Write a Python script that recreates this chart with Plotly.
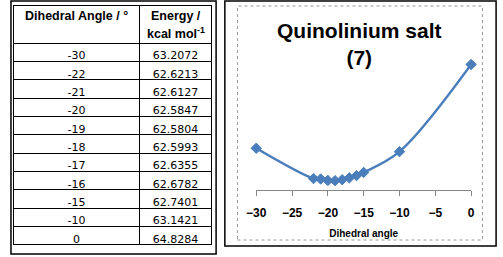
import plotly.graph_objects as go

angles = [-30, -22, -21, -20, -19, -18, -17, -16, -15, -10, 0]
energies = [63.2072, 62.6213, 62.6127, 62.5847, 62.5804, 62.5993, 62.6355, 62.6782, 62.7401, 63.1421, 64.8284]
header_col1 = "<b>Dihedral Angle / °</b>"
header_col2_l1 = "<b>Energy /</b>"
header_col2_l2 = "<b>kcal mol<sup>-1</sup></b>"
chart_title = "<b>Quinolinium salt</b><br><b>(7)</b>"
x_title = "Dihedral angle"
x_ticks = [-30, -25, -20, -15, -10, -5, 0]

W, H = 503, 257
def px(x):
    return x / W
def py(y):
    return (H - y) / H

blue = "#4A7EBB"

fig = go.Figure()

fig.add_trace(go.Table(
    domain=dict(x=[px(4), px(208)], y=[py(246), py(5)]),
    columnwidth=[129, 75],
    header=dict(
        values=["", ""],
        align="center",
        height=38,
        fill_color="white",
        line=dict(color="black", width=1),
        font=dict(family="Liberation Sans", size=11, color="black"),
    ),
    cells=dict(
        values=[[str(a) for a in angles], [f"{e:.4f}" for e in energies]],
        align="center",
        height=18.36,
        fill_color="white",
        line=dict(color="black", width=1),
        font=dict(family="DejaVu Sans", size=11, color="black"),
    ),
))

fig.add_trace(go.Scatter(
    x=angles, y=energies,
    mode="lines+markers",
    line=dict(color=blue, width=2.5, shape="spline", smoothing=1.0),
    marker=dict(symbol="diamond", size=8, color=blue, line=dict(color=blue, width=1)),
    cliponaxis=False,
    showlegend=False,
    xaxis="x", yaxis="y",
))

hfont = dict(family="Liberation Sans", size=12.5, color="black")

fig.update_layout(
    width=W, height=H,
    margin=dict(l=0, r=0, t=0, b=0),
    paper_bgcolor="white",
    plot_bgcolor="rgba(0,0,0,0)",
    showlegend=False,
    xaxis=dict(
        domain=[px(253.3), px(474.3)],
        range=[-30, 0],
        tickvals=x_ticks,
        showgrid=False, zeroline=False,
        showline=True, linecolor="#868686", linewidth=1,
        ticks="outside", ticklen=5, tickcolor="#868686",
        ticklabelstandoff=7,
        tickfont=dict(family="Liberation Sans", size=12, color="black", weight="bold"),
        title=dict(text=x_title, standoff=10,
                   font=dict(family="Liberation Sans", size=10, color="black", weight="bold")),
        fixedrange=True,
    ),
    yaxis=dict(
        domain=[py(190), py(55.6)],
        range=[62.4, 65.0],
        visible=False,
        fixedrange=True,
    ),
    annotations=[
        dict(text=chart_title, x=px(360), y=py(17), xref="paper", yref="paper",
             xanchor="center", yanchor="top", showarrow=False, align="center",
             font=dict(family="Liberation Sans", size=21, color="black")),
        dict(text=header_col1, x=px(68.5), y=py(16), xref="paper", yref="paper",
             xanchor="center", yanchor="middle", showarrow=False, font=hfont),
        dict(text=header_col2_l1, x=px(171), y=py(16), xref="paper", yref="paper",
             xanchor="center", yanchor="middle", showarrow=False, font=hfont),
        dict(text=header_col2_l2, x=px(171), y=py(33), xref="paper", yref="paper",
             xanchor="center", yanchor="middle", showarrow=False, font=hfont),
    ],
    shapes=[
        dict(type="rect", xref="paper", yref="paper",
             x0=px(1), x1=px(212), y0=py(254), y1=py(1),
             line=dict(color="black", width=1.5)),
        dict(type="rect", xref="paper", yref="paper",
             x0=px(221), x1=px(500), y0=py(246), y1=py(1),
             line=dict(color="black", width=1.5)),
        dict(type="rect", xref="paper", yref="paper",
             x0=px(234), x1=px(486), y0=py(240), y1=py(6),
             line=dict(color="#999999", width=1, dash="dot")),
    ],
)

fig.write_html("out.html")
